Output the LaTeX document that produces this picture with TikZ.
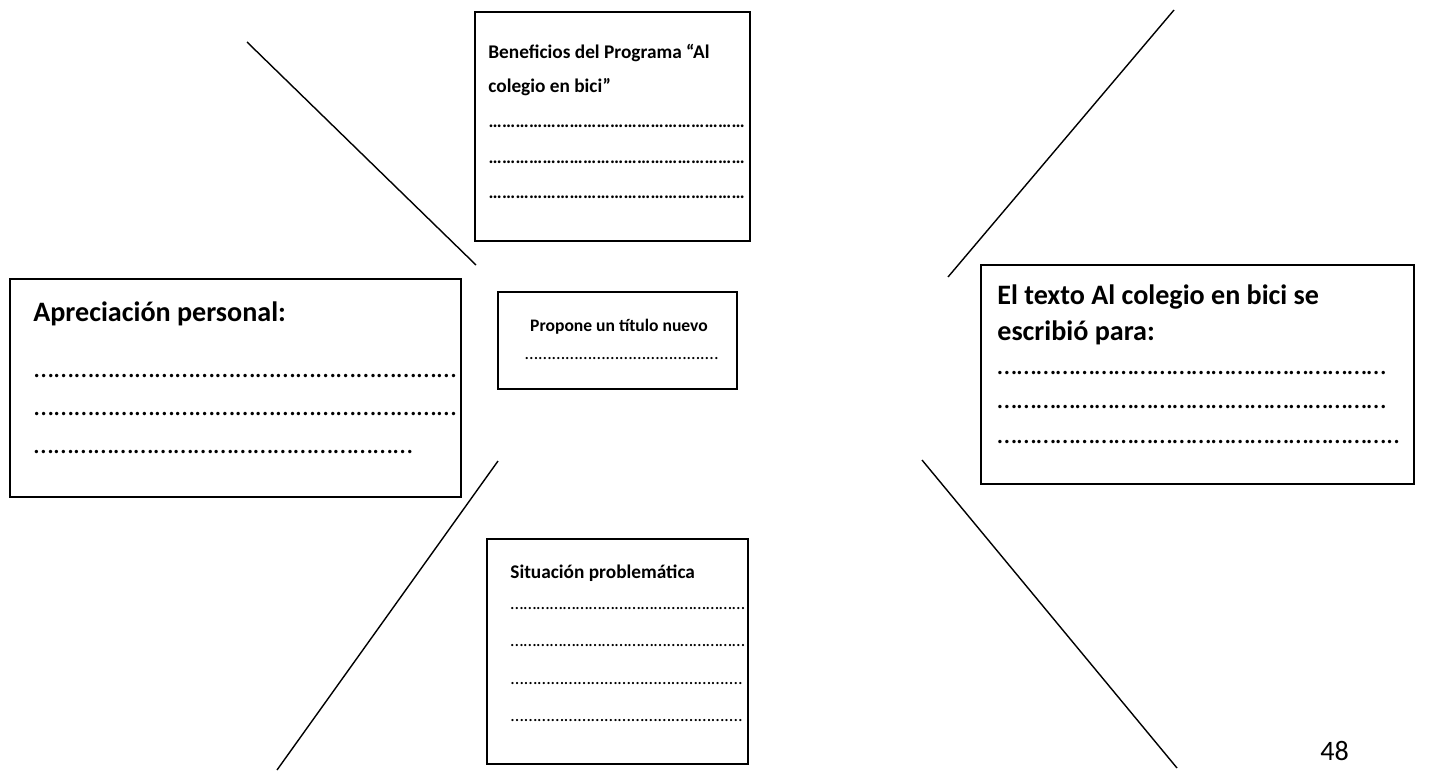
\documentclass[tikz,border=0pt]{standalone}
\usepackage{fontspec}
\setmainfont{Carlito}
\usetikzlibrary{positioning}

\newdimen\pxunit
\pxunit=0.02cm
% a row of ellipses, #1 pixels wide
\newcommand{\dotrow}[1]{\hbox to #1\pxunit{\xleaders\hbox{…}\hfill}}

\begin{document}
\begin{tikzpicture}[x=0.02cm, y=-0.02cm,
    box/.style={draw, line width=1pt},
    spoke/.style={line width=0.8pt},
    head/.style={anchor=base west, inner sep=0pt, font=\bfseries\fontsize{16}{19}\selectfont},
    dotline/.style={anchor=base west, inner sep=0pt, font=\fontsize{16}{19}\selectfont},
    headsmall/.style={head, font=\bfseries\fontsize{11}{13}\selectfont},
    dotsmall/.style={dotline, font=\fontsize{10.5}{12}\selectfont}]

    \useasboundingbox (0,0) rectangle (1429,771);

    % Spokes round the middle box
    \coordinate (nwout) at (247,42);
    \coordinate (nwin) at (476,265);
    \coordinate (neout) at (1174,10);
    \coordinate (nein) at (948,277);
    \coordinate (swin) at (498,461);
    \coordinate (swout) at (277,770);
    \coordinate (sein) at (922,460);
    \coordinate (seout) at (1177,768);
    \draw[spoke] (nwout) -- (nwin);
    \draw[spoke] (neout) -- (nein);
    \draw[spoke] (swin) -- (swout);
    \draw[spoke] (sein) -- (seout);

    % Top box: Beneficios
    \draw[box] (475,12) rectangle (750,241);
    \node[headsmall] (benefa) at (488,58) {Beneficios del Programa “Al};
    \node[headsmall] (benefb) at (488,92) {colegio en bici”};
    \foreach \y [count=\i] in {127,163,198}
        \node[dotsmall, font=\bfseries\fontsize{10.5}{12}\selectfont] (benefdots\i) at (488,\y) {\dotrow{257}};

    % Left box: Apreciacion
    \draw[box] (10,279) rectangle (461,497);
    \node[head] (aprec) at (33,321) {Apreciación personal:};
    \node[dotline] (aprecdots1) at (33,377) {\dotrow{424}};
    \node[dotline] (aprecdots2) at (33,415) {\dotrow{424}};
    \node[dotline] (aprecdots3) at (33,453) {\dotrow{380}};

    % Middle box: titulo
    \draw[box] (498,292) rectangle (737,389);
    \node[headsmall, anchor=base, font=\bfseries\fontsize{10}{12}\selectfont] (titulo) at (619,331) {Propone un título nuevo};
    \node[dotsmall] (titulodots) at (524,359) {\dotrow{190}.};

    % Right box: El texto
    \draw[box] (981,265) rectangle (1414,484);
    \node[head] (textoa) at (997,304) {El texto Al colegio en bici se};
    \node[head] (textob) at (997,340) {escribió para:};
    \node[dotline] (textodots1) at (997,374) {\dotrow{389}};
    \node[dotline] (textodots2) at (997,408) {\dotrow{389}};
    \node[dotline] (textodots3) at (997,443) {\dotrow{389}..};

    % Bottom box: Situacion
    \draw[box] (487,539) rectangle (748,764);
    \node[headsmall] (situ) at (510,578) {Situación problemática};
    \node[dotsmall] (situdots1) at (510,609) {\dotrow{235}};
    \node[dotsmall] (situdots2) at (510,646) {\dotrow{235}};
    \node[dotsmall] (situdots3) at (510,684) {\dotrow{228}.};
    \node[dotsmall] (situdots4) at (510,721) {\dotrow{228}.};

    % Page number
    \node[anchor=base west, inner sep=0pt, font=\fontsize{16}{19}\selectfont] (pagenum) at (1320,760) {48};

\end{tikzpicture}
\end{document}
